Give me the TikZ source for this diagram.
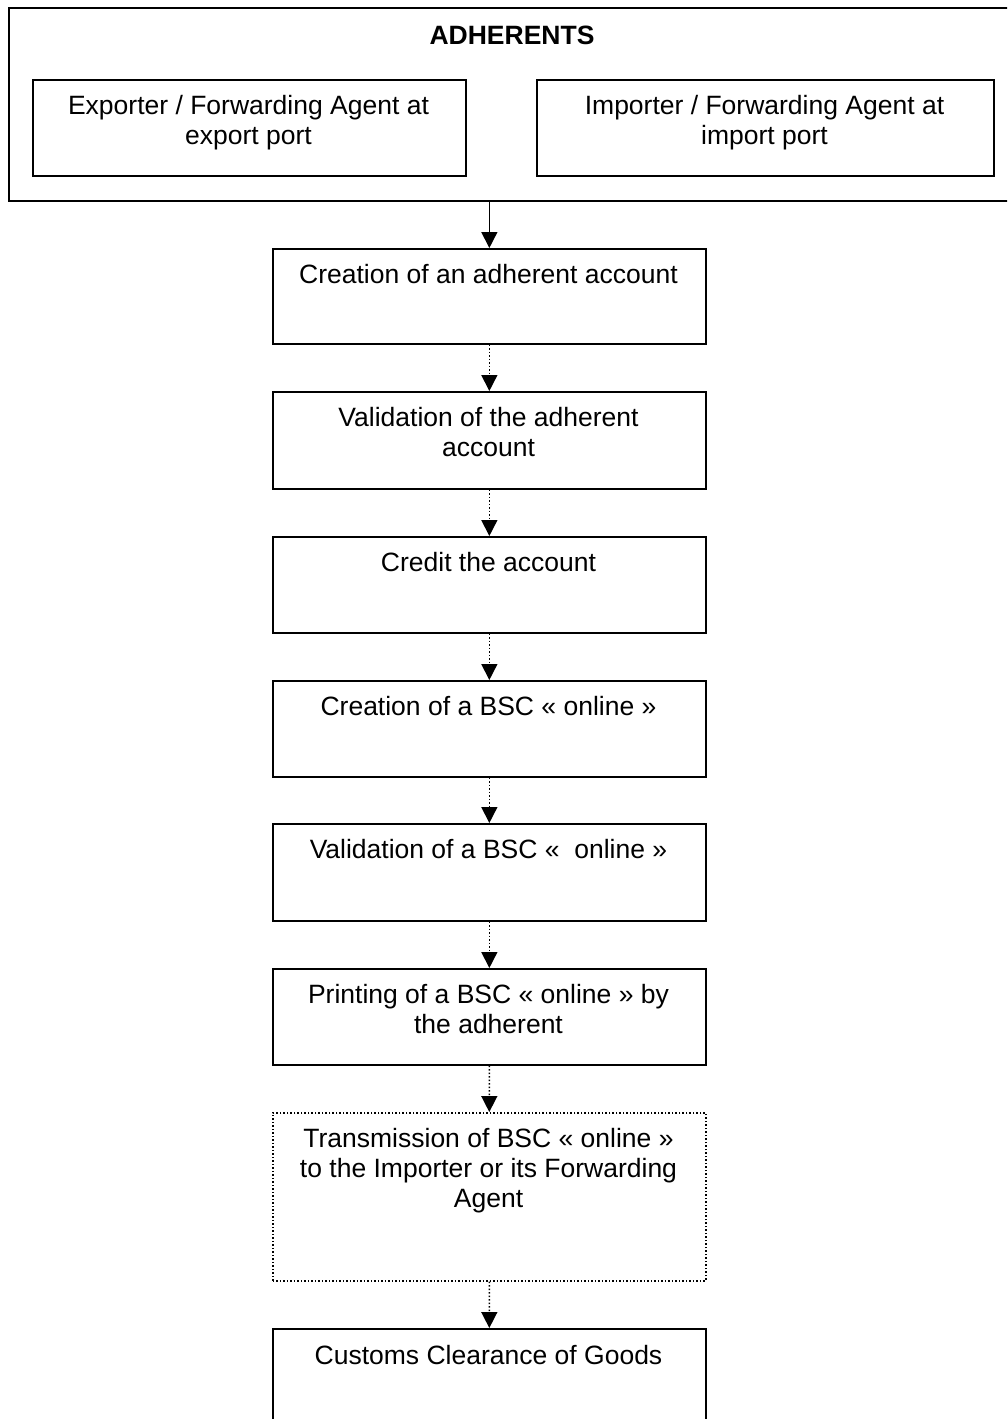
\documentclass[tikz,border=0pt]{standalone}
\usepackage{fontspec}
\setmainfont{Liberation Sans}
\usetikzlibrary{arrows.meta}
\tikzset{
  box/.style={draw, line width=1.7pt, anchor=north west, inner sep=0pt},
  dotbox/.style={draw, line width=1.5pt, dash pattern=on 1.5pt off 2pt, anchor=north west, inner sep=0pt},
  txt/.style={anchor=base, align=center, inner sep=0pt, font=\fontsize{26.5}{30}\selectfont},
  btxt/.style={txt, font=\fontsize{26.5}{30}\selectfont\bfseries},
  link/.style={line width=1.5pt, -{Triangle[width=16pt,length=16pt]}},
  dlink/.style={line width=1.5pt, dash pattern=on 1.5pt off 2pt, -{Triangle[width=16pt,length=16pt]}}
}
\begin{document}
\begin{tikzpicture}[x=1pt,y=-1pt]
\useasboundingbox (0,0) rectangle (1007,1419);
\clip (0,0) rectangle (1007,1419);
% outer adherents box
\node[box, minimum width=1008pt, minimum height=193pt] (outer) at (8,7) {};
\node[btxt] (adh) at (512,44.5) {ADHERENTS};
\node[box, minimum width=433pt, minimum height=96pt] (exp) at (32,79) {};
\node[txt] (expt) at (248.5,144.5) {Exporter / Forwarding Agent at\\export port};
\node[box, minimum width=457pt, minimum height=96pt] (imp) at (536,79) {};
\node[txt] (impt) at (764.5,144.5) {Importer / Forwarding Agent at\\import port};
% steps
\node[box, minimum width=433pt, minimum height=95pt] (s1) at (272,248) {};
\node[txt] (t1) at (488.5,283.5) {Creation of an adherent account};
\node[box, minimum width=433pt, minimum height=97pt] (s2) at (272,391) {};
\node[txt] (t2) at (488.5,456.5) {Validation of the adherent\\account};
\node[box, minimum width=433pt, minimum height=96pt] (s3) at (272,536) {};
\node[txt] (t3) at (488.5,571.5) {Credit the account};
\node[box, minimum width=433pt, minimum height=96pt] (s4) at (272,680) {};
\node[txt] (t4) at (488.5,715.5) {Creation of a BSC « online »};
\node[box, minimum width=433pt, minimum height=97pt] (s5) at (272,823) {};
\node[txt] (t5) at (488.5,858.5) {Validation of a BSC «\ \ online »};
\node[box, minimum width=433pt, minimum height=96pt] (s6) at (272,968) {};
\node[txt] (t6) at (488.5,1033.5) {Printing of a BSC « online » by\\the adherent};
\node[dotbox, minimum width=433pt, minimum height=168pt] (s7) at (272,1112) {};
\node[txt] (t7) at (488.5,1207.5) {Transmission of BSC « online »\\to the Importer or its Forwarding\\Agent};
\node[box, minimum width=433pt, minimum height=97pt] (s8) at (272,1328) {};
\node[txt] (t8) at (488.5,1364) {Customs Clearance of Goods};
% connectors
\draw[link] (outer.south -| s1.north) -- (s1.north);
\draw[dlink] (s1) -- (s2);
\draw[dlink] (s2) -- (s3);
\draw[dlink] (s3) -- (s4);
\draw[dlink] (s4) -- (s5);
\draw[dlink] (s5) -- (s6);
\draw[dlink] (s6) -- (s7);
\draw[dlink] (s7) -- (s8);
\end{tikzpicture}
\end{document}
